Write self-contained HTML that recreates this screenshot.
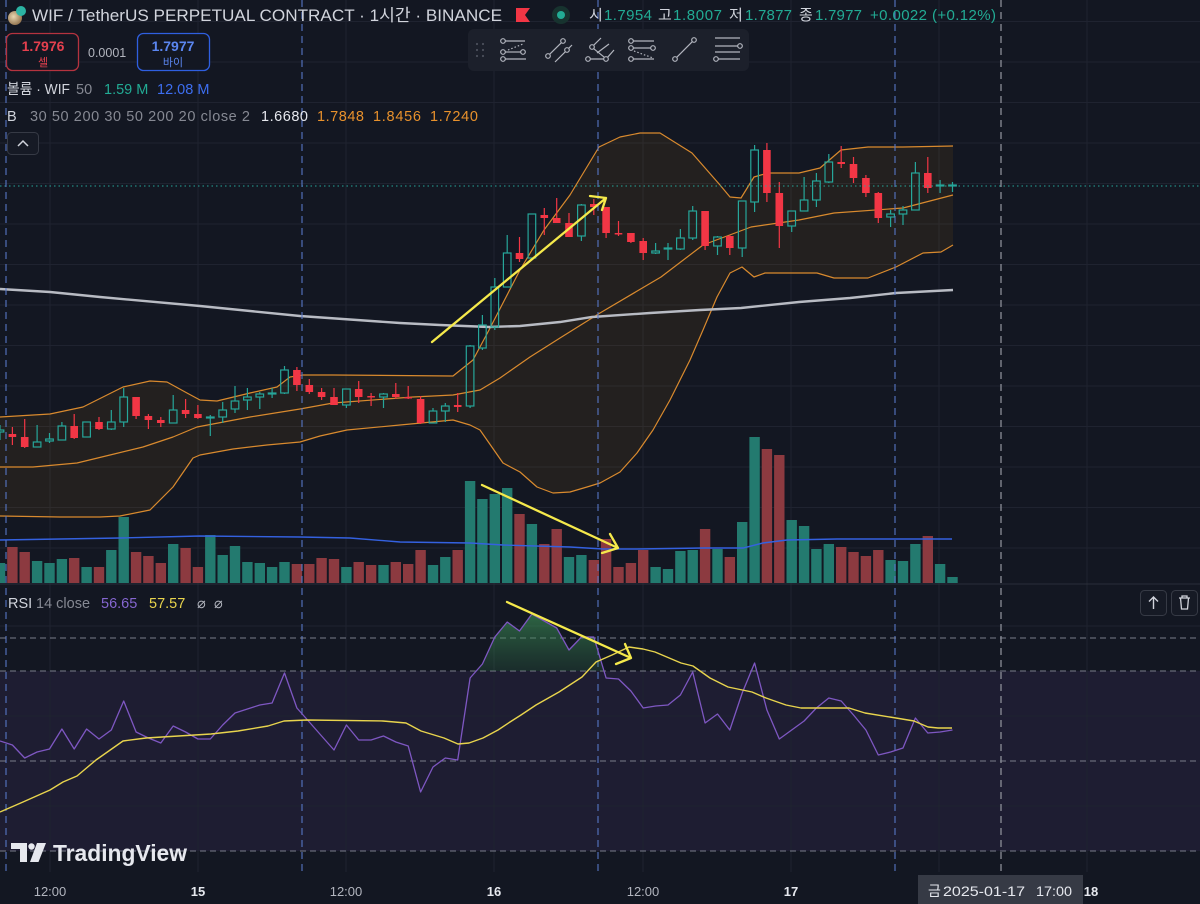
<!DOCTYPE html>
<html><head><meta charset="utf-8"><style>
html,body{margin:0;padding:0;background:#131722;overflow:hidden;width:1200px;height:904px}
svg{display:block}
text{font-family:"Liberation Sans","Noto Sans CJK KR",sans-serif}
</style></head><body>
<svg width="1200" height="904" viewBox="0 0 1200 904" xmlns="http://www.w3.org/2000/svg">
<defs>
<linearGradient id="rg" x1="0" y1="0" x2="0" y2="1"><stop offset="0" stop-color="#3f9a5a" stop-opacity="0.6"/><stop offset="1" stop-color="#2e6b45" stop-opacity="0.1"/></linearGradient>
<clipPath id="ob"><rect x="0" y="585" width="1200" height="86"/></clipPath>
<radialGradient id="coin" cx="0.4" cy="0.4" r="0.7"><stop offset="0" stop-color="#e9d6b0"/><stop offset="1" stop-color="#8a6a45"/></radialGradient>
</defs>
<rect width="1200" height="904" fill="#131722"/>
<rect x="0" y="671" width="1200" height="180" fill="#7e57c2" opacity="0.1"/>
<!-- grid -->
<g stroke="#1f2330" stroke-width="1">
<path d="M50 0V872M198 0V872M346 0V872M494 0V872M643 0V872M791 0V872M939 0V872M1087 0V872"/>
<path d="M0 21.5H1200M0 62H1200M0 102.5H1200M0 143H1200M0 183.5H1200M0 224H1200M0 264.5H1200M0 305H1200M0 345.5H1200M0 386H1200M0 426.5H1200M0 467H1200M0 507.5H1200M0 548H1200M0 626H1200M0 716H1200M0 806H1200"/>
</g>
<line x1="0" y1="584" x2="1200" y2="584" stroke="#2a2e39" stroke-width="1"/>
<!-- Bollinger -->
<polygon fill="#ff9800" opacity="0.07" points="0,417 50,414 83,407 123,387 150,381 167,382 187,393 200,400 217,401 250,393 277,387 290,377 303,375 333,375 453,376 473,360 489,330 520,270 544,230 570,195 599,147 620,137 640,133 660,133 692,153 720,185 730,197 741,198 754,177 768,173 799,173 820,168 841,150 868,147 903,147 953,146 953,245 941,252 923,253 896,267 868,278 834,278 817,273 765,273 754,277 742,267 730,273 717,297 703,330 690,360 670,400 653,430 637,453 620,472 600,483 587,487 570,492 553,493 537,487 520,472 503,463 480,430 470,425 453,420 400,425 347,430 320,436 300,442 267,445 233,449 200,455 193,458 173,487 150,510 120,516 100,517 60,517 0,516"/>
<g fill="none" stroke="#d98a2e" stroke-width="1.2" stroke-linejoin="round">
<polyline points="0,417 50,414 83,407 123,387 150,381 167,382 187,393 200,400 217,401 250,393 277,387 290,377 303,375 333,375 453,376 473,360 489,330 520,270 544,230 570,195 599,147 620,137 640,133 660,133 692,153 720,185 730,197 741,198 754,177 768,173 799,173 820,168 841,150 868,147 903,147 953,146"/>
<polyline points="0,516 60,517 100,517 120,516 150,510 173,487 193,458 200,455 233,449 267,445 300,442 320,436 347,430 400,425 453,420 470,425 480,430 503,463 520,472 537,487 553,493 570,492 587,487 600,483 620,472 637,453 653,430 670,400 690,360 703,330 717,297 730,273 742,267 754,277 765,273 817,273 834,278 868,278 896,267 923,253 941,252 953,245"/>
<polyline points="0,467 33,467 77,463 110,455 143,447 173,437 197,427 250,417 300,409 333,403 413,397 453,395 480,390 500,378 530,357 560,338 600,313 661,277 703,245 751,227 799,220 834,213 903,208 953,195"/>
</g>
<polyline fill="none" stroke="#b8bbc3" stroke-width="2.4" points="0,289 50,292 100,297 200,306 300,316 400,323 440,325 489,327 520,326 560,322 592,317 650,313 700,310 741,308 799,302 850,298 896,293 953,290"/>
<!-- volume -->
<g fill="#237a6f">
<rect x="-5.2" y="563" width="10.4" height="20"/><rect x="31.9" y="561" width="10.4" height="22"/><rect x="44.3" y="563" width="10.4" height="20"/><rect x="56.7" y="559" width="10.4" height="24"/><rect x="81.4" y="567" width="10.4" height="16"/><rect x="106.1" y="550" width="10.4" height="33"/><rect x="118.5" y="517" width="10.4" height="66"/><rect x="168" y="544" width="10.4" height="39"/><rect x="205.1" y="535" width="10.4" height="48"/><rect x="217.5" y="555" width="10.4" height="28"/><rect x="229.8" y="546" width="10.4" height="37"/><rect x="242.2" y="562" width="10.4" height="21"/><rect x="254.6" y="563" width="10.4" height="20"/><rect x="266.9" y="567" width="10.4" height="16"/><rect x="279.3" y="562" width="10.4" height="21"/><rect x="341.2" y="567" width="10.4" height="16"/><rect x="378.3" y="565" width="10.4" height="18"/><rect x="427.8" y="565" width="10.4" height="18"/><rect x="440.1" y="557" width="10.4" height="26"/><rect x="464.9" y="481" width="10.4" height="102"/><rect x="477.2" y="499" width="10.4" height="84"/><rect x="489.6" y="494" width="10.4" height="89"/><rect x="502" y="488" width="10.4" height="95"/><rect x="526.7" y="524" width="10.4" height="59"/><rect x="563.8" y="557" width="10.4" height="26"/><rect x="576.2" y="555" width="10.4" height="28"/><rect x="650.4" y="567" width="10.4" height="16"/><rect x="662.8" y="569" width="10.4" height="14"/><rect x="675.2" y="551" width="10.4" height="32"/><rect x="687.5" y="550" width="10.4" height="33"/><rect x="712.3" y="549" width="10.4" height="34"/><rect x="737" y="522" width="10.4" height="61"/><rect x="749.4" y="437" width="10.4" height="146"/><rect x="786.5" y="520" width="10.4" height="63"/><rect x="798.9" y="526" width="10.4" height="57"/><rect x="811.2" y="549" width="10.4" height="34"/><rect x="823.6" y="544" width="10.4" height="39"/><rect x="885.4" y="560" width="10.4" height="23"/><rect x="897.8" y="561" width="10.4" height="22"/><rect x="910.2" y="544" width="10.4" height="39"/><rect x="934.9" y="564" width="10.4" height="19"/><rect x="947.3" y="577" width="10.4" height="6"/>
</g>
<g fill="#8c3a40">
<rect x="7.2" y="547" width="10.4" height="36"/><rect x="19.5" y="552" width="10.4" height="31"/><rect x="69" y="558" width="10.4" height="25"/><rect x="93.8" y="567" width="10.4" height="16"/><rect x="130.9" y="552" width="10.4" height="31"/><rect x="143.2" y="556" width="10.4" height="27"/><rect x="155.6" y="563" width="10.4" height="20"/><rect x="180.4" y="548" width="10.4" height="35"/><rect x="192.7" y="567" width="10.4" height="16"/><rect x="291.7" y="564" width="10.4" height="19"/><rect x="304.1" y="564" width="10.4" height="19"/><rect x="316.4" y="558" width="10.4" height="25"/><rect x="328.8" y="559" width="10.4" height="24"/><rect x="353.5" y="562" width="10.4" height="21"/><rect x="365.9" y="565" width="10.4" height="18"/><rect x="390.6" y="562" width="10.4" height="21"/><rect x="403" y="564" width="10.4" height="19"/><rect x="415.4" y="550" width="10.4" height="33"/><rect x="452.5" y="550" width="10.4" height="33"/><rect x="514.3" y="514" width="10.4" height="69"/><rect x="539.1" y="544" width="10.4" height="39"/><rect x="551.5" y="529" width="10.4" height="54"/><rect x="588.6" y="560" width="10.4" height="23"/><rect x="600.9" y="539" width="10.4" height="44"/><rect x="613.3" y="567" width="10.4" height="16"/><rect x="625.7" y="563" width="10.4" height="20"/><rect x="638" y="550" width="10.4" height="33"/><rect x="699.9" y="529" width="10.4" height="54"/><rect x="724.6" y="557" width="10.4" height="26"/><rect x="761.7" y="449" width="10.4" height="134"/><rect x="774.1" y="455" width="10.4" height="128"/><rect x="836" y="547" width="10.4" height="36"/><rect x="848.3" y="552" width="10.4" height="31"/><rect x="860.7" y="556" width="10.4" height="27"/><rect x="873.1" y="550" width="10.4" height="33"/><rect x="922.6" y="536" width="10.4" height="47"/>
</g>
<polyline fill="none" stroke="#3461e0" stroke-width="1.4" points="0,540 120,538 200,536 300,537 350,538 400,542 470,543 503,545 570,547 603,549 637,549 703,548 743,548 763,543 787,540 837,539 903,539 952,539"/>
<!-- candles green -->
<g stroke="#26a69a" stroke-width="1.2" fill="none">
<path d="M0 425V430M0 432V440M37.1 425V442M49.5 433V439M49.5 441V443M61.9 422V426M111.3 410V422M111.3 429V430M123.7 388V397M123.7 422V427M173.2 395V410M210.3 415V417M210.3 418V436M222.7 402V410M222.7 417V423M235 386V401M235 409V413M247.4 388V397M247.4 400V410M259.8 392V394M259.8 397V409M272.1 388V393M272.1 394V398M284.5 366V370M284.5 393V394M346.4 405V408M383.5 393V394M383.5 397V408M433 408V411M445.3 403V406M445.3 411V422M470.1 345V346M470.1 406V408M482.4 315V325M482.4 348V350M494.8 278V287M494.8 327V330M507.2 235V253M531.9 258V260M581.4 204V205M581.4 236V241M655.6 243V251M655.6 253V254M668 243V248M668 249V260M680.4 229V238M680.4 249V250M692.7 206V211M692.7 238V240M717.5 236V237M717.5 246V255M742.2 248V257M754.6 145V150M754.6 202V212M791.7 226V232M804.1 177V200M816.4 173V181M816.4 200V207M828.8 154V162M828.8 182V183M890.6 210V214M890.6 217V227M903 206V210M903 214V225M915.4 162V173M940.1 180V185M940.1 186V193M952.5 182V185M952.5 186V192"/>
<rect x="-3.8" y="430" width="7.6" height="2"/><rect x="33.3" y="442" width="7.6" height="5"/><rect x="45.7" y="439" width="7.6" height="2"/><rect x="58.1" y="426" width="7.6" height="14"/><rect x="82.8" y="422" width="7.6" height="15"/><rect x="107.5" y="422" width="7.6" height="7"/><rect x="119.9" y="397" width="7.6" height="25"/><rect x="169.4" y="410" width="7.6" height="13"/><rect x="206.5" y="417" width="7.6" height="1"/><rect x="218.9" y="410" width="7.6" height="7"/><rect x="231.2" y="401" width="7.6" height="8"/><rect x="243.6" y="397" width="7.6" height="3"/><rect x="256" y="394" width="7.6" height="3"/><rect x="268.3" y="393" width="7.6" height="1"/><rect x="280.7" y="370" width="7.6" height="23"/><rect x="342.6" y="389" width="7.6" height="16"/><rect x="379.7" y="394" width="7.6" height="3"/><rect x="429.2" y="411" width="7.6" height="12"/><rect x="441.5" y="406" width="7.6" height="5"/><rect x="466.3" y="346" width="7.6" height="60"/><rect x="478.6" y="325" width="7.6" height="23"/><rect x="491" y="287" width="7.6" height="40"/><rect x="503.4" y="253" width="7.6" height="34"/><rect x="528.1" y="214" width="7.6" height="44"/><rect x="577.6" y="205" width="7.6" height="31"/><rect x="651.8" y="251" width="7.6" height="2"/><rect x="664.2" y="248" width="7.6" height="1"/><rect x="676.6" y="238" width="7.6" height="11"/><rect x="688.9" y="211" width="7.6" height="27"/><rect x="713.7" y="237" width="7.6" height="9"/><rect x="738.4" y="201" width="7.6" height="47"/><rect x="750.8" y="150" width="7.6" height="52"/><rect x="787.9" y="211" width="7.6" height="15"/><rect x="800.3" y="200" width="7.6" height="11"/><rect x="812.6" y="181" width="7.6" height="19"/><rect x="825" y="162" width="7.6" height="20"/><rect x="886.8" y="214" width="7.6" height="3"/><rect x="899.2" y="210" width="7.6" height="4"/><rect x="911.6" y="173" width="7.6" height="37"/><rect x="936.3" y="185" width="7.6" height="1"/><rect x="948.7" y="185" width="7.6" height="1"/>
</g>
<!-- candles red -->
<g fill="#f23645">
<path stroke="#f23645" stroke-width="1.2" d="M12.4 427V445M24.7 419V448M74.2 414V439M99 417V430M136.1 397V419M148.4 414V429M160.8 417V427M185.6 399V418M197.9 405V419M296.9 367V391M309.3 379V394M321.6 388V400M334 388V405M358.7 381V403M371.1 393V406M395.8 383V399M408.2 386V399M420.6 396V424M457.7 393V412M519.5 237V262M544.3 208V235M556.7 198V223M569 213V237M593.8 199V215M606.1 207V238M618.5 221V236M630.9 233V243M643.2 238V260M705.1 211V250M729.8 235V255M766.9 143V202M779.3 182V248M841.2 146V168M853.5 157V183M865.9 175V197M878.3 192V223M927.8 157V193"/>
<rect x="8.6" y="434" width="7.6" height="3"/><rect x="20.9" y="437" width="7.6" height="10"/><rect x="70.4" y="426" width="7.6" height="12"/><rect x="95.2" y="422" width="7.6" height="7"/><rect x="132.3" y="397" width="7.6" height="19"/><rect x="144.6" y="416" width="7.6" height="4"/><rect x="157" y="420" width="7.6" height="3"/><rect x="181.8" y="410" width="7.6" height="4"/><rect x="194.1" y="414" width="7.6" height="4"/><rect x="293.1" y="370" width="7.6" height="15"/><rect x="305.5" y="385" width="7.6" height="7"/><rect x="317.8" y="392" width="7.6" height="5"/><rect x="330.2" y="397" width="7.6" height="8"/><rect x="354.9" y="389" width="7.6" height="8"/><rect x="367.3" y="396" width="7.6" height="1.5"/><rect x="392" y="394" width="7.6" height="3"/><rect x="404.4" y="397" width="7.6" height="1.5"/><rect x="416.8" y="399" width="7.6" height="24"/><rect x="453.9" y="405" width="7.6" height="2"/><rect x="515.7" y="253" width="7.6" height="6"/><rect x="540.5" y="215" width="7.6" height="3"/><rect x="552.9" y="218" width="7.6" height="5"/><rect x="565.2" y="223" width="7.6" height="14"/><rect x="590" y="204" width="7.6" height="3"/><rect x="602.3" y="207" width="7.6" height="26"/><rect x="614.7" y="233" width="7.6" height="1.5"/><rect x="627.1" y="233" width="7.6" height="9"/><rect x="639.4" y="241" width="7.6" height="12"/><rect x="701.3" y="211" width="7.6" height="35"/><rect x="726" y="236" width="7.6" height="12"/><rect x="763.1" y="150" width="7.6" height="43"/><rect x="775.5" y="193" width="7.6" height="33"/><rect x="837.4" y="162" width="7.6" height="2"/><rect x="849.7" y="164" width="7.6" height="14"/><rect x="862.1" y="178" width="7.6" height="15"/><rect x="874.5" y="193" width="7.6" height="25"/><rect x="924" y="173" width="7.6" height="15"/>
</g>
<line x1="0" y1="186" x2="1200" y2="186" stroke="#26a69a" stroke-width="1" stroke-dasharray="1.5 3"/>
<!-- dashed lines -->
<g stroke="#5878c8" stroke-width="1.2" stroke-dasharray="7 5" opacity="0.9">
<path d="M6 0V872M302 0V872M598 0V872M895 0V872"/>
</g>
<path d="M1001 0V872" stroke="#9598a1" stroke-width="1.2" stroke-dasharray="7 5"/>
<g stroke="#8a8e9b" stroke-width="1" stroke-dasharray="6 4" opacity="0.85">
<path d="M0 638H1200M0 671H1200M0 761H1200M0 851H1200"/>
</g>
<!-- RSI -->
<polygon clip-path="url(#ob)" fill="url(#rg)" points="470.1,678 482.4,664 494.8,637 507.2,622 519.5,631 531.9,614 544.3,621 556.7,628 569,650 581.4,637 593.8,637 606.1,678 606.1,690 470.1,690"/>
<polyline fill="none" stroke="#7e57c2" stroke-width="1.3" stroke-linejoin="round" points="0,741 12.4,745 24.7,758 37.1,752 49.5,749 61.9,729 74.2,749 86.6,729 99,739 111.3,730 123.7,701 136.1,732 148.4,738 160.8,743 173.2,726 185.6,732 197.9,739 210.3,739 222.7,725 235,713 247.4,709 259.8,705 272.1,703 284.5,673 296.9,708 309.3,722 321.6,736 334,750 346.4,725 358.7,740 371.1,740 383.5,736 395.8,742 408.2,746 420.6,792 433,767 445.3,758 457.7,760 470.1,678 482.4,664 494.8,637 507.2,622 519.5,631 531.9,614 544.3,621 556.7,628 569,650 581.4,637 593.8,637 606.1,678 618.5,679 630.9,691 643.2,708 655.6,706 668,705 680.4,695 692.7,672 705.1,723 717.5,714 729.8,730 742.2,693 754.6,663 766.9,710 779.3,739 791.7,730 804.1,721 816.4,708 828.8,698 841.2,701 853.5,715 865.9,730 878.3,755 890.6,752 903,748 915.4,718 927.8,733 940.1,732 952.5,730"/>
<polyline fill="none" stroke="#e8d44d" stroke-width="1.4" stroke-linejoin="round" points="0,812 23,802 50,790 63,782 77,776 96,760 123,741 146,738 211,734 238,731 268,726 284,721 307,720 383,721 406,723 421,731 444,738 458,744 469,743 483,738 498,730 510,722 521,715 536,705 559,692 582,677 596,662 612,655 629,647 643,649 655,652 681,663 693,666 710,678 728,687 752,692 766,698 786,705 801,708 849,708 865,713 896,718 914,721 928,727 938,728 952,728"/>
<!-- annotation arrows -->
<g stroke="#f5e94b" stroke-width="2.3" fill="none" stroke-linecap="round" stroke-linejoin="round">
<path d="M432 342L606 198M590 196L606 198L602 210"/>
<path d="M482 485L618 548M610 534L618 548L602 553"/>
<path d="M507 602L631 658M625 644L631 658L616 664"/>
</g>
<!-- header -->
<circle cx="15" cy="18" r="7" fill="url(#coin)"/>
<circle cx="21" cy="11" r="5" fill="#2bb3a3"/>
<text x="32" y="21" font-size="17" fill="#d1d4dc" textLength="470" lengthAdjust="spacingAndGlyphs">WIF / TetherUS PERPETUAL CONTRACT · 1시간 · BINANCE</text>
<polygon points="516,8 530,8 525,15 530,22 516,22" fill="#f23645"/>
<circle cx="561" cy="15" r="9" fill="#17332f"/><circle cx="561" cy="15" r="4" fill="#22ab94"/>
<g font-size="15">
<text x="589" y="20" fill="#d1d4dc">시</text><text x="604" y="20" fill="#22ab94" textLength="48">1.7954</text>
<text x="658" y="20" fill="#d1d4dc">고</text><text x="673" y="20" fill="#22ab94" textLength="49">1.8007</text>
<text x="729" y="20" fill="#d1d4dc">저</text><text x="745" y="20" fill="#22ab94" textLength="47">1.7877</text>
<text x="799" y="20" fill="#d1d4dc">종</text><text x="815" y="20" fill="#22ab94" textLength="47">1.7977</text>
<text x="870" y="20" fill="#22ab94" textLength="126">+0.0022 (+0.12%)</text>
</g>
<rect x="6.5" y="33.5" width="72" height="37" rx="6" fill="#131722" stroke="#b5333f" stroke-width="1.3"/>
<text x="43" y="51" font-size="14" font-weight="bold" fill="#e5404e" text-anchor="middle">1.7976</text>
<text x="43" y="66" font-size="11" fill="#e5404e" text-anchor="middle">셀</text>
<text x="88" y="57" font-size="12.5" fill="#b2b5be">0.0001</text>
<rect x="137.5" y="33.5" width="72" height="37" rx="6" fill="#131722" stroke="#2f5fe0" stroke-width="1.3"/>
<text x="173" y="51" font-size="14" font-weight="bold" fill="#5b86f0" text-anchor="middle">1.7977</text>
<text x="173" y="66" font-size="11" fill="#5b86f0" text-anchor="middle">바이</text>
<g font-size="14.5">
<text x="7" y="94" fill="#d1d4dc" textLength="63" lengthAdjust="spacingAndGlyphs">볼륨 · WIF</text>
<text x="76" y="94" fill="#868993">50</text>
<text x="104" y="94" fill="#22ab94">1.59 M</text>
<text x="157" y="94" fill="#3d6ef0">12.08 M</text>
<text x="7" y="121" fill="#d1d4dc">B</text>
<text x="30" y="121" fill="#868993" textLength="220">30 50 200 30 50 200 20 close 2</text>
<text x="261" y="121" fill="#e6e8ee" textLength="47">1.6680</text>
<text x="317" y="121" fill="#e8912c" textLength="47">1.7848</text>
<text x="373" y="121" fill="#e8912c" textLength="48">1.8456</text>
<text x="430" y="121" fill="#e8912c" textLength="48">1.7240</text>
</g>
<rect x="7.5" y="132.5" width="31" height="22" rx="4" fill="#161a25" stroke="#363a45"/>
<path d="M18 146L23 141L28 146" stroke="#d1d4dc" stroke-width="1.5" fill="none"/>
<!-- toolbar -->
<rect x="468" y="29" width="281" height="42" rx="6" fill="#1c202b"/>
<g fill="#4c505b"><circle cx="477" cy="44" r="1.1"/><circle cx="483" cy="44" r="1.1"/><circle cx="477" cy="50" r="1.1"/><circle cx="483" cy="50" r="1.1"/><circle cx="477" cy="56" r="1.1"/><circle cx="483" cy="56" r="1.1"/></g>
<g stroke="#b2b5be" stroke-width="1.2" fill="none">
<circle cx="503" cy="41" r="2.3"/><path d="M505.5 41H525"/><circle cx="503" cy="52" r="2.3"/><circle cx="523" cy="52" r="2.3"/><path d="M505.5 52H520.5"/><circle cx="503" cy="59" r="2.3"/><path d="M505.5 59H526"/><path d="M508 50L523 44" stroke-dasharray="1.5 2"/>
<circle cx="548" cy="56" r="2.3"/><circle cx="563" cy="41" r="2.3"/><path d="M549.6 54.3L561.4 42.7"/><circle cx="567" cy="50" r="2.3"/><path d="M555 62L565.4 51.7M568.7 48.3L572 45"/>
<circle cx="592" cy="47" r="2.3"/><circle cx="588" cy="59" r="2.3"/><circle cx="606" cy="59" r="2.3"/><path d="M590.3 59H603.7M593.6 45.3L601 38M593.7 48.7L604.4 57.3M597 53L609 44M607.6 57.3L614 50"/>
<circle cx="631" cy="41" r="2.3"/><path d="M633.3 41H654"/><circle cx="631" cy="48" r="2.3"/><circle cx="653" cy="48" r="2.3"/><path d="M633.3 48H650.7"/><circle cx="631" cy="59" r="2.3"/><path d="M633.3 59H654"/><path d="M634 51L653 58" stroke-dasharray="1.5 2"/>
<circle cx="675" cy="59" r="2.3"/><circle cx="694" cy="40" r="2.3"/><path d="M676.6 57.4L692.4 41.6"/>
<path d="M715 38H740M715 46H737.7M715 52H740"/><circle cx="740" cy="46" r="2.3"/><circle cx="716" cy="59" r="2.3"/><path d="M718.3 59H740"/>
</g>
<!-- RSI legend -->
<g font-size="14.5">
<text x="8" y="608" fill="#d1d4dc">RSI</text>
<text x="36" y="608" fill="#868993">14 close</text>
<text x="101" y="608" fill="#8566d0">56.65</text>
<text x="149" y="608" fill="#e8d44d">57.57</text>
<text x="197" y="608" fill="#b2b5be">⌀</text>
<text x="214" y="608" fill="#b2b5be">⌀</text>
</g>
<rect x="1140.5" y="590.5" width="26" height="25" rx="4" fill="#161a25" stroke="#363a45"/>
<path d="M1153.5 609V597M1149 601.5L1153.5 597L1158 601.5" stroke="#d1d4dc" stroke-width="1.4" fill="none"/>
<rect x="1171.5" y="590.5" width="26" height="25" rx="4" fill="#161a25" stroke="#363a45"/>
<path d="M1179 598H1190M1182 598V596H1187V598M1180.5 598L1181.5 609H1187.5L1188.5 598" stroke="#d1d4dc" stroke-width="1.3" fill="none"/>
<!-- watermark -->
<g fill="#e6e8ee">
<path d="M11 843H27V862H20V849H11Z"/>
<circle cx="31.5" cy="846.5" r="3.2"/>
<path d="M37 843H46L38.5 862H30Z"/>
</g>
<text x="53" y="861" font-size="23" font-weight="bold" fill="#e6e8ee" textLength="134" lengthAdjust="spacingAndGlyphs">TradingView</text>
<!-- time axis -->
<g font-size="13" text-anchor="middle">
<text x="50" y="896" fill="#b2b5be">12:00</text>
<text x="198" y="896" fill="#e6e8ee" font-weight="bold">15</text>
<text x="346" y="896" fill="#b2b5be">12:00</text>
<text x="494" y="896" fill="#e6e8ee" font-weight="bold">16</text>
<text x="643" y="896" fill="#b2b5be">12:00</text>
<text x="791" y="896" fill="#e6e8ee" font-weight="bold">17</text>
<text x="1091" y="896" fill="#e6e8ee" font-weight="bold">18</text>
</g>
<rect x="918" y="875" width="165" height="29" fill="#363a45"/>
<g font-size="14" fill="#e6e8ee">
<text x="928" y="896">금</text>
<text x="943" y="896" textLength="82" lengthAdjust="spacingAndGlyphs">2025-01-17</text>
<text x="1036" y="896" textLength="36" lengthAdjust="spacingAndGlyphs">17:00</text>
</g>
</svg>
</body></html>
